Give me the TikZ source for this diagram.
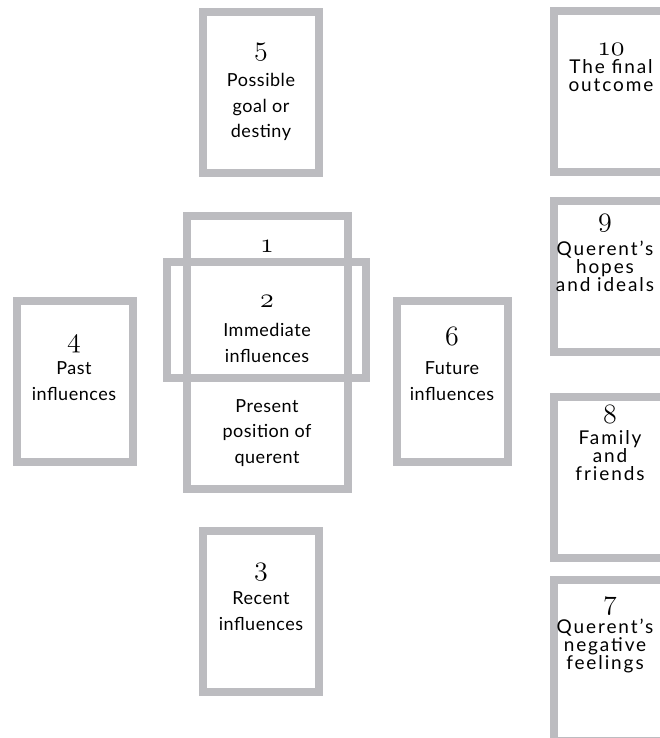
\RequirePackage{fix-cm}
\documentclass[tikz,border=0pt]{standalone}
\usepackage{fontspec}
\setsansfont{Lato}[LetterSpace=3]
\definecolor{cardgray}{RGB}{188,188,192}
\newcommand{\cardno}[1]{$\mathnormal{#1}$}
\tikzset{
  card/.style={draw=cardgray, line width=8pt, minimum width=116pt, minimum height=161pt, inner sep=0pt},
  cardtext/.style={font=\sffamily\fontsize{18}{25.5}\selectfont, align=center, inner sep=0pt},
  sidetext/.style={font=\sffamily\fontsize{19}{18}\selectfont\addfontfeature{LetterSpace=10}, align=center, inner sep=0pt},
  cardnum/.style={font=\fontsize{28}{28}\selectfont, inner sep=0pt}
}
\begin{document}
\begin{tikzpicture}[x=1pt,y=-1pt]
  \clip (0,0) rectangle (660,738);

  % Cartas
  \node[card] (c5) at (261,92.5) {};
  \node[card] (c10) at (611.5,92) {};
  \node[card, minimum height=151pt] (c9) at (611.5,276.5) {};
  \node[card] (c8) at (611.5,477.5) {};
  \node[card] (c7) at (611.5,660.5) {};
  \node[card] (c4) at (74.5,381) {};
  \node[card, minimum width=111pt] (c6) at (452.5,381) {};
  \node[card, minimum width=161pt, minimum height=273pt] (c1) at (267.5,352.5) {};
  \node[card, minimum width=199pt, minimum height=116pt] (c2) at (266.5,320) {};
  \node[card] (c3) at (261,611.5) {};

  % Numeros
  \node[cardnum] (n5) at (261,52) {\cardno{5}};
  \node[cardnum] (n10) at (611,49) {\cardno{10}};
  \node[cardnum] (n1) at (267,246) {\cardno{1}};
  \node[cardnum] (n2) at (267,301) {\cardno{2}};
  \node[cardnum] (n4) at (74,344) {\cardno{4}};
  \node[cardnum] (n6) at (452,336) {\cardno{6}};
  \node[cardnum] (n3) at (261,572) {\cardno{3}};
  \node[cardnum] (n9) at (605,223) {\cardno{9}};
  \node[cardnum] (n8) at (610,414) {\cardno{8}};
  \node[cardnum] (n7) at (610,606) {\cardno{7}};

  % Significados
  \node[cardtext] (t5) at (261,107) {Possible\\goal or\\destiny};
  \node[sidetext] (t10) at (611,76) {The final\\outcome};
  \node[cardtext] (t2) at (267,343) {Immediate\\influences};
  \node[cardtext] (t1) at (267,433) {Present\\position of\\querent};
  \node[cardtext] (t4) at (74,381) {Past\\influences};
  \node[cardtext] (t6) at (452,381) {Future\\influences};
  \node[cardtext] (t3) at (261,611) {Recent\\influences};
  \node[sidetext] (t9) at (605,266) {Querent's\\hopes\\and ideals};
  \node[sidetext] (t8) at (610,456) {Family\\and\\friends};
  \node[sidetext] (t7) at (605,646) {Querent's\\negative\\feelings};
\end{tikzpicture}
\end{document}
